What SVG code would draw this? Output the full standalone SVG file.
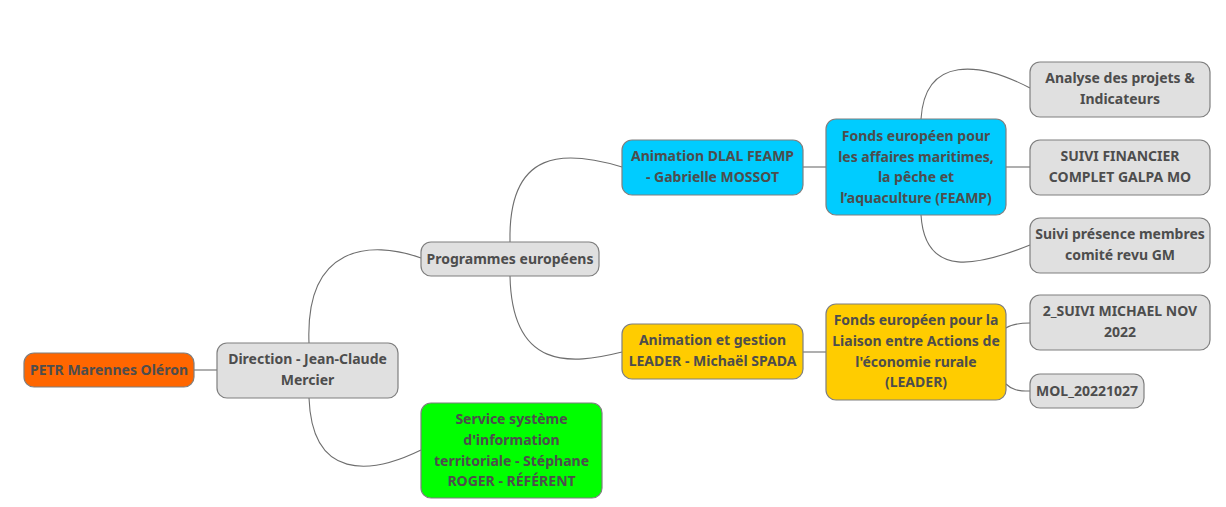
<svg xmlns="http://www.w3.org/2000/svg" width="1226" height="507" viewBox="0 0 1226 507">
<style>
.n{stroke:#7f7f7f;stroke-width:1.2}
.g{fill:#e0e0e0}
.t{font-family:"Noto Sans","Open Sans",sans-serif;font-weight:bold;font-size:14px;fill:#4d4d4d;text-anchor:middle}
.c{fill:none;stroke:#6e6e6e;stroke-width:1.1}
</style>
<rect width="1226" height="507" fill="#ffffff"/>
<g id="connectors">
<path class="c" d="M194,370 H217"/>
<path class="c" d="M309,343 C305,245 370,240 421,258"/>
<path class="c" d="M309,398 C312,480 370,475 421,450"/>
<path class="c" d="M510,242 C508,148 565,150 622,167"/>
<path class="c" d="M510,276 C512,370 570,365 622,352"/>
<path class="c" d="M803,167 H826"/>
<path class="c" d="M803,352 H826"/>
<path class="c" d="M921,119 C925,55 980,62 1030,88"/>
<path class="c" d="M1006,167 H1030"/>
<path class="c" d="M921,215 C925,280 980,265 1030,245"/>
<path class="c" d="M1006,328 C1012,324 1018,323 1030,323"/>
<path class="c" d="M1006,384 C1012,390 1018,391 1030,391"/>
</g>
<g id="petr"><rect class="n" x="24" y="353" width="170" height="34" rx="10" fill="#ff6600"/><text class="t" x="109" y="375">PETR Marennes Oléron</text></g>
<g id="direction"><rect class="n g" x="217" y="343" width="181" height="55" rx="10"/><text class="t" x="307.5" y="364">Direction - Jean-Claude</text><text class="t" x="307.5" y="385">Mercier</text></g>
<g id="programmes"><rect class="n g" x="421" y="242" width="178" height="34" rx="10"/><text class="t" x="510" y="264">Programmes européens</text></g>
<g id="sig"><rect class="n" x="421" y="403" width="181" height="95" rx="10" fill="#00ff00"/><text class="t" x="511.5" y="424">Service système</text><text class="t" x="511.5" y="445">d'information</text><text class="t" x="511.5" y="466">territoriale - Stéphane</text><text class="t" x="511.5" y="486">ROGER - RÉFÉRENT</text></g>
<g id="dlal"><rect class="n" x="622" y="140" width="181" height="55" rx="10" fill="#00ccff"/><text class="t" x="712.5" y="161">Animation DLAL FEAMP</text><text class="t" x="712.5" y="182">- Gabrielle MOSSOT</text></g>
<g id="anim-leader"><rect class="n" x="622" y="324" width="181" height="55" rx="10" fill="#ffcc00"/><text class="t" x="712.5" y="345">Animation et gestion</text><text class="t" x="712.5" y="366">LEADER - Michaël SPADA</text></g>
<g id="feamp"><rect class="n" x="826" y="119" width="180" height="96" rx="10" fill="#00ccff"/><text class="t" x="916" y="141">Fonds européen pour</text><text class="t" x="916" y="162">les affaires maritimes,</text><text class="t" x="916" y="182">la pêche et</text><text class="t" x="916" y="203">l’aquaculture (FEAMP)</text></g>
<g id="leader"><rect class="n" x="826" y="304" width="180" height="96" rx="10" fill="#ffcc00"/><text class="t" x="916" y="325">Fonds européen pour la</text><text class="t" x="916" y="346">Liaison entre Actions de</text><text class="t" x="916" y="367">l'économie rurale</text><text class="t" x="916" y="387">(LEADER)</text></g>
<g id="analyse"><rect class="n g" x="1030" y="62" width="180" height="55" rx="10"/><text class="t" x="1120" y="83">Analyse des projets &amp;</text><text class="t" x="1120" y="104">Indicateurs</text></g>
<g id="suivi-fin"><rect class="n g" x="1030" y="140" width="180" height="55" rx="10"/><text class="t" x="1120" y="161">SUIVI FINANCIER</text><text class="t" x="1120" y="182">COMPLET GALPA MO</text></g>
<g id="suivi-pres"><rect class="n g" x="1030" y="218" width="180" height="55" rx="10"/><text class="t" x="1120" y="239">Suivi présence membres</text><text class="t" x="1120" y="260">comité revu GM</text></g>
<g id="suivi-michael"><rect class="n g" x="1030" y="295" width="180" height="55" rx="10"/><text class="t" x="1120" y="316">2_SUIVI MICHAEL NOV</text><text class="t" x="1120" y="337">2022</text></g>
<g id="mol"><rect class="n g" x="1030" y="374" width="114" height="34" rx="10"/><text class="t" x="1087" y="396">MOL_20221027</text></g>
</svg>
